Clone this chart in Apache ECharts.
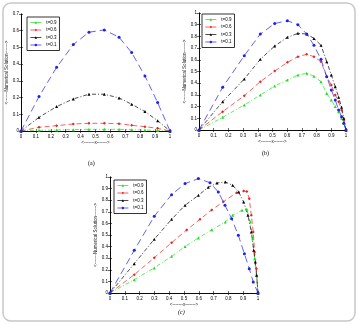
<!DOCTYPE html>
<html>
<head>
<meta charset="utf-8">
<script src="https://cdn.jsdelivr.net/npm/echarts@6/dist/echarts.min.js"></script>
<style>
  html, body { margin: 0; padding: 0; background: #fff; }
  #chart { width: 359px; height: 325px; }
</style>
</head>
<body>
<div id="chart"></div>
<script>
// legend names, same in all three panels
const names = ['t=0.9', 't=0.6', 't=0.3', 't=0.1']

// panel (a)
const aX = [0, 0.121, 0.239, 0.351, 0.456, 0.559, 0.658, 0.743, 0.832, 0.917, 1]
const aT09 = [0, 0.004, 0.006, 0.008, 0.01, 0.01, 0.01, 0.008, 0.006, 0.003, 0]
const aT06 = [0, 0.022, 0.032, 0.042, 0.046, 0.046, 0.044, 0.034, 0.026, 0.016, 0]
const aT03 = [0, 0.082, 0.146, 0.192, 0.22, 0.22, 0.198, 0.16, 0.116, 0.062, 0]
const aT01 = [0, 0.206, 0.381, 0.517, 0.591, 0.605, 0.561, 0.469, 0.329, 0.17, 0]

// panel (b)
const bX = [0, 0.161, 0.308, 0.417, 0.515, 0.601, 0.673, 0.733, 0.782, 0.83, 0.869, 0.9, 0.927, 0.95, 0.97, 0.985, 1]
const bT09 = [0, 0.108, 0.214, 0.299, 0.376, 0.427, 0.47, 0.484, 0.46, 0.413, 0.313, 0.256, 0.2, 0.157, 0.1, 0.057, 0]
const bT06 = [0, 0.157, 0.293, 0.413, 0.504, 0.578, 0.627, 0.647, 0.627, 0.584, 0.456, 0.385, 0.3, 0.242, 0.171, 0.085, 0]
const bT03 = [0, 0.242, 0.436, 0.604, 0.718, 0.792, 0.826, 0.82, 0.783, 0.724, 0.584, 0.47, 0.37, 0.28, 0.194, 0.1, 0]
const bT01 = [0, 0.365, 0.635, 0.82, 0.91, 0.934, 0.9, 0.82, 0.724, 0.604, 0.456, 0.342, 0.256, 0.171, 0.114, 0.057, 0]

// panel (c) - each curve has its own x points
const cX09 = [0, 0.164, 0.299, 0.416, 0.507, 0.597, 0.687, 0.779, 0.829, 0.892, 0.925, 0.948, 0.964, 0.977, 0.989, 1]
const cT09 = [0, 0.115, 0.216, 0.316, 0.4, 0.475, 0.545, 0.612, 0.67, 0.713, 0.721, 0.612, 0.468, 0.296, 0.152, 0]
const cX06 = [0, 0.164, 0.299, 0.416, 0.518, 0.608, 0.687, 0.766, 0.856, 0.903, 0.925, 0.941, 0.955, 0.968, 0.977, 0.989, 1]
const cT06 = [0, 0.158, 0.304, 0.434, 0.543, 0.635, 0.716, 0.787, 0.865, 0.879, 0.876, 0.813, 0.67, 0.526, 0.353, 0.21, 0]
const cX03 = [0, 0.164, 0.299, 0.416, 0.507, 0.597, 0.664, 0.723, 0.779, 0.829, 0.869, 0.903, 0.932, 0.955, 0.971, 0.982, 0.991, 1]
const cT03 = [0, 0.253, 0.463, 0.635, 0.756, 0.842, 0.911, 0.948, 0.957, 0.928, 0.871, 0.784, 0.67, 0.526, 0.368, 0.267, 0.152, 0]
const cX01 = [0, 0.164, 0.299, 0.416, 0.507, 0.597, 0.676, 0.732, 0.777, 0.822, 0.867, 0.908, 0.941, 0.968, 1]
const cT01 = [0, 0.368, 0.661, 0.848, 0.943, 0.986, 0.951, 0.871, 0.756, 0.641, 0.497, 0.339, 0.21, 0.095, 0]

const colors = { 't=0.9': '#1fdc1f', 't=0.6': '#e8221f', 't=0.3': '#000000', 't=0.1': '#2020e6' }
const dashes = { 't=0.9': [4, 2, 1, 2], 't=0.6': [5, 3], 't=0.3': [4, 2, 1, 2], 't=0.1': [7, 4] }
const symbols = { 't=0.9': 'triangle', 't=0.6': 'diamond', 't=0.3': 'triangle', 't=0.1': 'circle' }

const pair = (xs, ys) => xs.map((v, i) => [v, ys[i]])
const fmt = v => (v === 0 ? '0' : v === 1 ? '1' : v.toFixed(1))

function line(name, xs, ys, gi) {
  return {
    name: name,
    type: 'line',
    xAxisIndex: gi * 2,
    yAxisIndex: gi * 2,
    data: pair(xs, ys),
    symbol: symbols[name],
    symbolSize: 3,
    itemStyle: { color: colors[name] },
    lineStyle: { color: colors[name], width: 0.7, type: dashes[name] },
    animation: false
  }
}

function xAxes(gi) {
  return [{
    gridIndex: gi, type: 'value', min: 0, max: 1, interval: 0.1,
    name: '<-------x------->', nameLocation: 'middle', nameGap: 8,
    nameTextStyle: { fontSize: 4.5, color: '#222' },
    axisLine: { lineStyle: { color: '#000', width: 0.8 } },
    axisTick: { inside: true, length: 2, lineStyle: { color: '#000', width: 0.6 } },
    axisLabel: { fontSize: 4.5, color: '#000', margin: 3, formatter: fmt },
    splitLine: { show: false }
  }, {
    gridIndex: gi, type: 'value', min: 0, max: 1, interval: 0.1, position: 'top',
    axisLine: { lineStyle: { color: '#000', width: 0.8 } },
    axisTick: { inside: true, length: 2, lineStyle: { color: '#000', width: 0.6 } },
    axisLabel: { show: false },
    splitLine: { show: false }
  }]
}

function yAxes(gi, max) {
  return [{
    gridIndex: gi, type: 'value', min: 0, max: max, interval: 0.1,
    name: '<-------Numerical Solution------->', nameLocation: 'middle', nameGap: 11, nameRotate: 90,
    nameTextStyle: { fontSize: 4.5, color: '#222' },
    axisLine: { lineStyle: { color: '#000', width: 0.8 } },
    axisTick: { inside: true, length: 2, lineStyle: { color: '#000', width: 0.6 } },
    axisLabel: { fontSize: 4.5, color: '#000', margin: 2, formatter: fmt },
    splitLine: { show: false }
  }, {
    gridIndex: gi, type: 'value', min: 0, max: max, interval: 0.1, position: 'right',
    axisLine: { lineStyle: { color: '#000', width: 0.8 } },
    axisTick: { inside: true, length: 2, lineStyle: { color: '#000', width: 0.6 } },
    axisLabel: { show: false },
    splitLine: { show: false }
  }]
}

function legend(left, top) {
  return {
    data: names, left: left, top: top, orient: 'vertical',
    itemWidth: 11, itemHeight: 3, itemGap: 2.5,
    padding: [3, 3], borderColor: '#000', borderWidth: 0.8, backgroundColor: '#fff',
    lineStyle: { type: 'solid', width: 0.7 },
    textStyle: { fontSize: 4.5, color: '#000' }
  }
}

const chart = echarts.init(document.getElementById('chart'))
chart.setOption({
  animation: false,
  grid: [
    { left: 21, top: 14, width: 149, height: 117 },
    { left: 199, top: 13, width: 147, height: 117 },
    { left: 110, top: 177, width: 148, height: 116 }
  ],
  xAxis: [...xAxes(0), ...xAxes(1), ...xAxes(2)],
  yAxis: [...yAxes(0, 0.7), ...yAxes(1, 1), ...yAxes(2, 1)],
  legend: [legend(27, 17), legend(202, 14), legend(114, 180)],
  graphic: [
    { type: 'rect', shape: { x: 3, y: 3, width: 352, height: 318, r: 8 }, style: { fill: 'none', stroke: '#c8c8c8', lineWidth: 1.5 } },
    { type: 'text', left: 88, top: 160, style: { text: '(a)', font: '6px "Liberation Serif"', fill: '#000' } },
    { type: 'text', left: 262, top: 150, style: { text: '(b)', font: '6px "Liberation Serif"', fill: '#000' } },
    { type: 'text', left: 178, top: 309, style: { text: '(c)', font: 'italic 6px "Liberation Serif"', fill: '#000' } }
  ],
  series: [
    line('t=0.9', aX, aT09, 0),
    line('t=0.6', aX, aT06, 0),
    line('t=0.3', aX, aT03, 0),
    line('t=0.1', aX, aT01, 0),
    line('t=0.9', bX, bT09, 1),
    line('t=0.6', bX, bT06, 1),
    line('t=0.3', bX, bT03, 1),
    line('t=0.1', bX, bT01, 1),
    line('t=0.9', cX09, cT09, 2),
    line('t=0.6', cX06, cT06, 2),
    line('t=0.3', cX03, cT03, 2),
    line('t=0.1', cX01, cT01, 2)
  ]
})
</script>
</body>
</html>
